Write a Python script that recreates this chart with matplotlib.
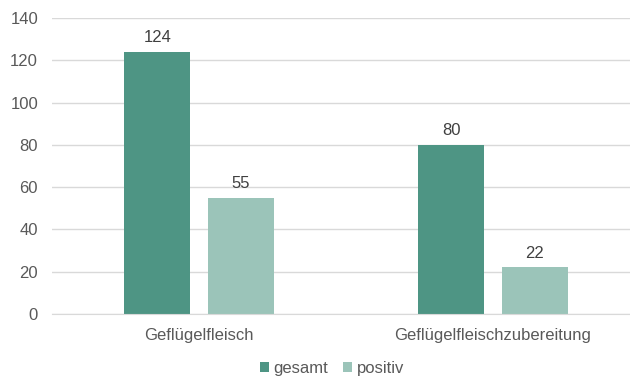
import numpy as np
import matplotlib
matplotlib.use('Agg')
import matplotlib.pyplot as plt

categories = ['Geflügelfleisch', 'Geflügelfleischzubereitung']
gesamt = [124, 80]
positiv = [55, 22]
series_names = ['gesamt', 'positiv']
yticks = [0, 20, 40, 60, 80, 100, 120, 140]

plt.rcParams['font.family'] = ['Liberation Sans', 'DejaVu Sans']

dark = '#4e9584'
light = '#9bc4b9'
grid_col = '#d9d9d9'
text_col = '#595959'
fs = 12

fig = plt.figure(figsize=(6.3, 3.78), dpi=100)
# plot area: left at 52px, runs to right edge; y 0 at 314px, 140 at 18px
ax = fig.add_axes([52 / 630, 1 - 314 / 378, 1 - 52 / 630, (314 - 18) / 378])

x = np.arange(len(categories))
w = 0.224
off = 0.142
b1 = ax.bar(x - off, gesamt, w, color=dark, label=series_names[0], zorder=3)
b2 = ax.bar(x + off, positiv, w, color=light, label=series_names[1], zorder=3)

for bars in (b1, b2):
    for r in bars:
        ax.annotate(f'{int(r.get_height())}', (r.get_x() + r.get_width() / 2, r.get_height()),
                    xytext=(0, 5), textcoords='offset points', ha='center', va='bottom',
                    fontsize=fs, color='#404040')

ax.set_xlim(-0.5, -0.5 + (630 - 52) / 294)
ax.set_ylim(0, 140)
ax.set_yticks(yticks)
ax.set_xticks(x)
ax.set_xticklabels(categories)
ax.tick_params(axis='both', length=0, labelsize=fs, labelcolor=text_col)
ax.tick_params(axis='y', pad=10)
ax.tick_params(axis='x', pad=10)
ax.yaxis.grid(True, color=grid_col, linewidth=1, zorder=0)
for s in ['top', 'right', 'left']:
    ax.spines[s].set_visible(False)
ax.spines['bottom'].set_color(grid_col)
ax.spines['bottom'].set_zorder(4)

fig.legend(loc='center', bbox_to_anchor=(332 / 630, 1 - 368 / 378), ncol=2, frameon=False,
           fontsize=fs, labelcolor=text_col, handlelength=0.55, handleheight=0.55,
           handletextpad=0.25, columnspacing=0.9)

fig.savefig('out.png', dpi=100)
